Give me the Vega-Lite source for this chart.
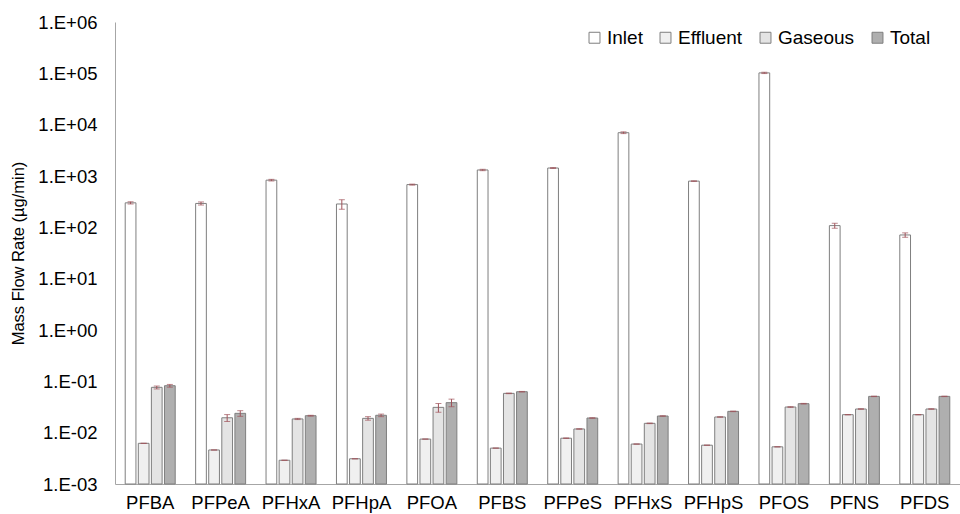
{
  "$schema": "https://vega.github.io/schema/vega-lite/v6.json",
  "width": 845,
  "height": 462,
  "autosize": {"type": "none"},
  "padding": {"left": 115, "top": 22, "right": 0, "bottom": 30},
  "background": "white",
  "config": {
    "font": "Liberation Sans",
    "view": {"stroke": null},
    "axis": {"grid": false, "ticks": false, "domainColor": "#a6a6a6", "labelColor": "#000", "titleColor": "#000", "labelFont": "Liberation Sans", "titleFont": "Liberation Sans"}
  },
  "data": {
    "values": [
      {"c": "PFBA", "s": "Inlet", "v": 300, "lo": 285, "hi": 315},
      {"c": "PFBA", "s": "Effluent", "v": 0.0062, "lo": 0.0062, "hi": 0.0062},
      {"c": "PFBA", "s": "Gaseous", "v": 0.0764, "lo": 0.071, "hi": 0.081},
      {"c": "PFBA", "s": "Total", "v": 0.0822, "lo": 0.077, "hi": 0.087},
      {"c": "PFPeA", "s": "Inlet", "v": 292, "lo": 272, "hi": 312},
      {"c": "PFPeA", "s": "Effluent", "v": 0.0046, "lo": 0.0046, "hi": 0.0046},
      {"c": "PFPeA", "s": "Gaseous", "v": 0.0195, "lo": 0.0165, "hi": 0.0225},
      {"c": "PFPeA", "s": "Total", "v": 0.0238, "lo": 0.0208, "hi": 0.0268},
      {"c": "PFHxA", "s": "Inlet", "v": 830, "lo": 800, "hi": 860},
      {"c": "PFHxA", "s": "Effluent", "v": 0.0029, "lo": 0.0029, "hi": 0.0029},
      {"c": "PFHxA", "s": "Gaseous", "v": 0.0185, "lo": 0.018, "hi": 0.019},
      {"c": "PFHxA", "s": "Total", "v": 0.0214, "lo": 0.021, "hi": 0.0218},
      {"c": "PFHpA", "s": "Inlet", "v": 285, "lo": 225, "hi": 345},
      {"c": "PFHpA", "s": "Effluent", "v": 0.0031, "lo": 0.0031, "hi": 0.0031},
      {"c": "PFHpA", "s": "Gaseous", "v": 0.019, "lo": 0.0175, "hi": 0.0205},
      {"c": "PFHpA", "s": "Total", "v": 0.0218, "lo": 0.0205, "hi": 0.023},
      {"c": "PFOA", "s": "Inlet", "v": 680, "lo": 665, "hi": 695},
      {"c": "PFOA", "s": "Effluent", "v": 0.0075, "lo": 0.0075, "hi": 0.0075},
      {"c": "PFOA", "s": "Gaseous", "v": 0.0311, "lo": 0.025, "hi": 0.037},
      {"c": "PFOA", "s": "Total", "v": 0.0384, "lo": 0.032, "hi": 0.045},
      {"c": "PFBS", "s": "Inlet", "v": 1310, "lo": 1270, "hi": 1350},
      {"c": "PFBS", "s": "Effluent", "v": 0.005, "lo": 0.005, "hi": 0.005},
      {"c": "PFBS", "s": "Gaseous", "v": 0.0583, "lo": 0.0575, "hi": 0.059},
      {"c": "PFBS", "s": "Total", "v": 0.0628, "lo": 0.062, "hi": 0.0636},
      {"c": "PFPeS", "s": "Inlet", "v": 1430, "lo": 1400, "hi": 1460},
      {"c": "PFPeS", "s": "Effluent", "v": 0.0078, "lo": 0.0077, "hi": 0.0079},
      {"c": "PFPeS", "s": "Gaseous", "v": 0.0118, "lo": 0.0117, "hi": 0.0119},
      {"c": "PFPeS", "s": "Total", "v": 0.0193, "lo": 0.0191, "hi": 0.0195},
      {"c": "PFHxS", "s": "Inlet", "v": 6970, "lo": 6700, "hi": 7250},
      {"c": "PFHxS", "s": "Effluent", "v": 0.006, "lo": 0.006, "hi": 0.006},
      {"c": "PFHxS", "s": "Gaseous", "v": 0.0152, "lo": 0.015, "hi": 0.0154},
      {"c": "PFHxS", "s": "Total", "v": 0.0211, "lo": 0.0209, "hi": 0.0213},
      {"c": "PFHpS", "s": "Inlet", "v": 795, "lo": 785, "hi": 805},
      {"c": "PFHpS", "s": "Effluent", "v": 0.0057, "lo": 0.0057, "hi": 0.0057},
      {"c": "PFHpS", "s": "Gaseous", "v": 0.0202, "lo": 0.02, "hi": 0.0204},
      {"c": "PFHpS", "s": "Total", "v": 0.026, "lo": 0.0257, "hi": 0.0263},
      {"c": "PFOS", "s": "Inlet", "v": 102000, "lo": 99000, "hi": 105000},
      {"c": "PFOS", "s": "Effluent", "v": 0.0053, "lo": 0.0053, "hi": 0.0053},
      {"c": "PFOS", "s": "Gaseous", "v": 0.0316, "lo": 0.0312, "hi": 0.032},
      {"c": "PFOS", "s": "Total", "v": 0.0367, "lo": 0.0362, "hi": 0.0372},
      {"c": "PFNS", "s": "Inlet", "v": 108, "lo": 96, "hi": 120},
      {"c": "PFNS", "s": "Effluent", "v": 0.0224, "lo": 0.0222, "hi": 0.0226},
      {"c": "PFNS", "s": "Gaseous", "v": 0.0289, "lo": 0.0286, "hi": 0.0292},
      {"c": "PFNS", "s": "Total", "v": 0.0509, "lo": 0.0504, "hi": 0.0514},
      {"c": "PFDS", "s": "Inlet", "v": 71, "lo": 64, "hi": 78},
      {"c": "PFDS", "s": "Effluent", "v": 0.0224, "lo": 0.0222, "hi": 0.0226},
      {"c": "PFDS", "s": "Gaseous", "v": 0.0289, "lo": 0.0286, "hi": 0.0292},
      {"c": "PFDS", "s": "Total", "v": 0.0509, "lo": 0.0504, "hi": 0.0514}
    ]
  },
  "encoding": {
    "x": {
      "field": "c", "type": "nominal", "sort": null,
      "scale": {"paddingInner": 0.29, "paddingOuter": 0.145},
      "axis": {"title": null, "labelAngle": 0, "labelFontSize": 18.5, "labelPadding": 9, "domainColor": "#a6a6a6"}
    },
    "xOffset": {
      "field": "s", "type": "nominal",
      "sort": ["Inlet", "Effluent", "Gaseous", "Total"],
      "scale": {"paddingInner": 0.18, "paddingOuter": 0}
    }
  },
  "layer": [
    {
      "mark": {"type": "bar", "stroke": "#7f7f7f", "strokeWidth": 1},
      "encoding": {
        "y": {
          "field": "v", "type": "quantitative",
          "scale": {"type": "log", "domain": [0.001, 1000000], "nice": false},
          "axis": {
            "title": "Mass Flow Rate (µg/min)", "titleFontSize": 16.5, "titleFontWeight": "normal", "titlePadding": 11,
            "values": [0.001, 0.01, 0.1, 1, 10, 100, 1000, 10000, 100000, 1000000],
            "labelFontSize": 18.5, "labelPadding": 18,
            "labelExpr": "'1.E' + (datum.value >= 1 ? '+' : '-') + (abs(round(log(datum.value)/LN10)) < 10 ? '0' : '') + abs(round(log(datum.value)/LN10))"
          }
        },
        "y2": {"datum": 0.001},
        "fill": {
          "field": "s", "type": "nominal",
          "sort": ["Inlet", "Effluent", "Gaseous", "Total"],
          "scale": {"domain": ["Inlet", "Effluent", "Gaseous", "Total"], "range": ["#ffffff", "#f0f0f0", "#e4e4e4", "#afafaf"]},
          "legend": {
            "title": null, "orient": "none", "direction": "horizontal", "legendX": 470, "legendY": 6,
            "symbolType": "square", "symbolSize": 120, "symbolStrokeColor": "#7f7f7f", "symbolStrokeWidth": 1,
            "labelFontSize": 19, "labelOffset": 3, "columnPadding": 13, "labelColor": "#000", "labelFont": "Liberation Sans"
          }
        }
      }
    },
    {
      "mark": {"type": "rule", "color": "#a0525a", "strokeWidth": 1},
      "encoding": {
        "y": {"field": "lo", "type": "quantitative"},
        "y2": {"field": "hi"}
      }
    },
    {
      "mark": {"type": "tick", "color": "#a0525a", "thickness": 1, "size": 6, "orient": "horizontal"},
      "encoding": {"y": {"field": "lo", "type": "quantitative"}}
    },
    {
      "mark": {"type": "tick", "color": "#a0525a", "thickness": 1, "size": 6, "orient": "horizontal"},
      "encoding": {"y": {"field": "hi", "type": "quantitative"}}
    }
  ]
}
